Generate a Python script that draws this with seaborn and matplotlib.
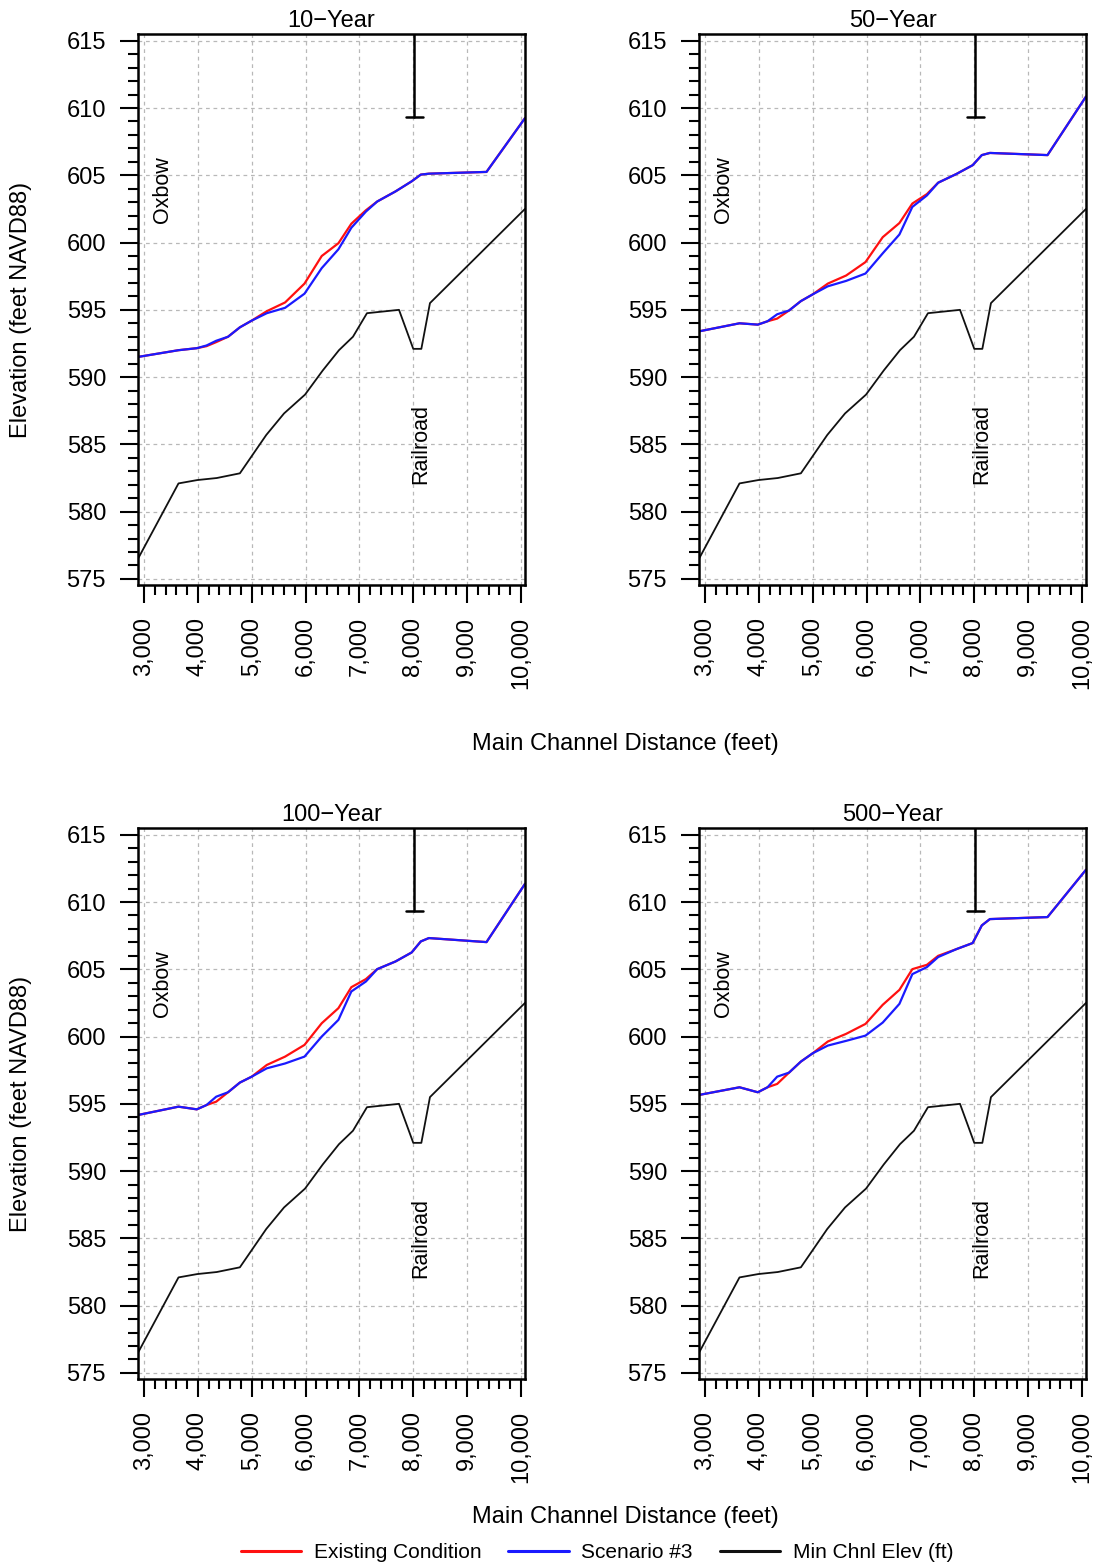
import numpy as np
import pandas as pd
import matplotlib
matplotlib.use("Agg")
import matplotlib.pyplot as plt
from matplotlib.ticker import MultipleLocator, FuncFormatter
import seaborn as sns

sns.set_style("white")
plt.rcParams['font.family'] = ['Liberation Sans', 'DejaVu Sans']
plt.rcParams['text.color'] = 'black'
plt.rcParams['axes.labelcolor'] = 'black'
plt.rcParams['xtick.color'] = 'black'
plt.rcParams['ytick.color'] = 'black'

# stations (feet) for the water surface profiles
stations = [2888, 3640, 3980, 4160, 4340, 4560, 4780, 5000, 5280, 5620, 5980,
            6300, 6610, 6850, 7120, 7330, 7670, 7970, 8140, 8290, 9360, 10075]

wse_10_exist = [591.5, 592.0, 592.15, 592.3, 592.6, 593.0, 593.7, 594.2, 594.9, 595.55, 596.95,
                599.0, 599.95, 601.4, 602.4, 603.05, 603.8, 604.55, 605.05, 605.12, 605.25, 609.25]
wse_10_scen = [591.5, 592.0, 592.15, 592.35, 592.7, 593.0, 593.7, 594.2, 594.75, 595.15, 596.2,
               598.1, 599.5, 601.1, 602.3, 603.05, 603.8, 604.55, 605.05, 605.12, 605.25, 609.25]

wse_50_exist = [593.4, 594.0, 593.9, 594.15, 594.35, 594.95, 595.65, 596.15, 596.95, 597.55, 598.55,
                600.4, 601.45, 602.9, 603.6, 604.45, 605.1, 605.75, 606.5, 606.66, 606.5, 610.85]
wse_50_scen = [593.4, 594.0, 593.9, 594.15, 594.67, 594.95, 595.65, 596.15, 596.75, 597.15, 597.7,
               599.2, 600.6, 602.65, 603.5, 604.45, 605.1, 605.75, 606.5, 606.66, 606.5, 610.85]

wse_100_exist = [594.17, 594.79, 594.59, 594.91, 595.16, 595.86, 596.58, 597.02, 597.89, 598.51, 599.38,
                 600.99, 602.11, 603.67, 604.27, 605.01, 605.58, 606.25, 607.07, 607.32, 607.02, 611.35]
wse_100_scen = [594.17, 594.79, 594.59, 594.91, 595.53, 595.86, 596.58, 597.02, 597.64, 598.0, 598.51,
                600.0, 601.24, 603.35, 604.09, 605.01, 605.58, 606.25, 607.07, 607.32, 607.02, 611.35]

wse_500_exist = [595.66, 596.23, 595.86, 596.23, 596.48, 597.32, 598.14, 598.76, 599.63, 600.2, 600.94,
                 602.36, 603.47, 605.01, 605.33, 606.0, 606.5, 606.95, 608.26, 608.73, 608.88, 612.4]
wse_500_scen = [595.66, 596.23, 595.86, 596.23, 597.02, 597.32, 598.14, 598.76, 599.33, 599.68, 600.07,
                601.04, 602.43, 604.64, 605.16, 605.91, 606.5, 606.95, 608.26, 608.73, 608.88, 612.4]

# minimum channel elevation
bed_stations = [2888, 3640, 3990, 4350, 4780, 5270, 5600, 5990, 6320, 6620, 6880,
                7140, 7735, 8000, 8150, 8310, 10075]
bed_elev = [576.5, 582.1, 582.35, 582.5, 582.85, 585.7, 587.3, 588.7, 590.5, 592.0, 593.0,
            594.75, 595.0, 592.1, 592.1, 595.5, 602.5]

titles = ["10\u2212Year", "50\u2212Year", "100\u2212Year", "500\u2212Year"]
exist_series = [wse_10_exist, wse_50_exist, wse_100_exist, wse_500_exist]
scen_series = [wse_10_scen, wse_50_scen, wse_100_scen, wse_500_scen]

railroad_x = 8020
railroad_low = 609.3

W, H = 1095, 1566
fig = plt.figure(figsize=(W / 100, H / 100), dpi=100)

# axes boxes in pixel coordinates (left, top, right, bottom)
boxes = [(138, 34, 525, 585), (699, 34, 1086, 585),
         (138, 828, 525, 1379), (699, 828, 1086, 1379)]

fs = 17
for i, (l, t, r, b) in enumerate(boxes):
    ax = fig.add_axes([l / W, 1 - b / H, (r - l) / W, (b - t) / H])
    df = pd.DataFrame({'station': stations, 'exist': exist_series[i], 'scen': scen_series[i]})
    bed = pd.DataFrame({'station': bed_stations, 'elev': bed_elev})

    sns.lineplot(data=df, x='station', y='exist', ax=ax, color='#ff1010', lw=1.6,
                 estimator=None, sort=False)
    sns.lineplot(data=df, x='station', y='scen', ax=ax, color='#1a1aff', lw=1.6,
                 estimator=None, sort=False)
    sns.lineplot(data=bed, x='station', y='elev', ax=ax, color='#111111', lw=1.3,
                 estimator=None, sort=False)

    # railroad marker
    ax.plot([railroad_x, railroad_x], [615.6, railroad_low], color='black', lw=1.8)
    ax.plot([railroad_x - 160, railroad_x + 160], [railroad_low, railroad_low], color='black', lw=1.8)

    ax.text(3350, 603.9, "Oxbow", rotation=90, ha='center', va='center', fontsize=15.5)
    ax.text(8140, 585.0, "Railroad", rotation=90, ha='center', va='center', fontsize=15.5)

    ax.set_xlim(2888, 10075)
    ax.set_ylim(574.55, 615.5)
    ax.xaxis.set_major_locator(MultipleLocator(1000))
    ax.xaxis.set_minor_locator(MultipleLocator(200))
    ax.yaxis.set_major_locator(MultipleLocator(5))
    ax.yaxis.set_minor_locator(MultipleLocator(1))
    ax.xaxis.set_major_formatter(FuncFormatter(lambda v, p: f"{int(v):,}"))
    ax.yaxis.set_major_formatter(FuncFormatter(lambda v, p: f"{int(v)}"))

    ax.tick_params(axis='both', which='both', bottom=True, left=True, top=False, right=False)
    ax.tick_params(axis='both', which='major', direction='out', length=13, width=1.5,
                   labelsize=fs, color='black', labelcolor='black', pad=10)
    ax.tick_params(axis='both', which='minor', direction='out', length=7, width=1.5, color='black')
    ax.tick_params(axis='x', which='major', labelrotation=90, pad=10)

    ax.grid(True, which='major', color='#b8b8b8', linestyle=(0, (3, 3)), lw=0.9)
    ax.set_axisbelow(True)
    for s in ax.spines.values():
        s.set_color('black')
        s.set_linewidth(1.8)

    ax.set_title(titles[i], fontsize=fs, pad=5, color='black')
    ax.set_xlabel("")
    if i % 2 == 0:
        ax.set_ylabel("Elevation (feet NAVD88)", fontsize=fs, color='black')
        ax.yaxis.set_label_coords(-0.275, 0.5)
    else:
        ax.set_ylabel("")

fig.text(625 / W, 1 - 744 / H, "Main Channel Distance (feet)", ha='center', va='center', fontsize=fs)
fig.text(625 / W, 1 - 1517 / H, "Main Channel Distance (feet)", ha='center', va='center', fontsize=fs)

handles = [plt.Line2D([], [], color='#ff1010', lw=2.2),
           plt.Line2D([], [], color='#1a1aff', lw=2.2),
           plt.Line2D([], [], color='#111111', lw=2.2)]
fig.legend(handles, ["Existing Condition", "Scenario #3", "Min Chnl Elev (ft)"],
           loc='center', bbox_to_anchor=(597 / W, 1 - 1553 / H), ncol=3, frameon=False,
           fontsize=15, handlelength=2.9, handletextpad=0.6, columnspacing=1.3)

fig.savefig("out.png", dpi=100)
